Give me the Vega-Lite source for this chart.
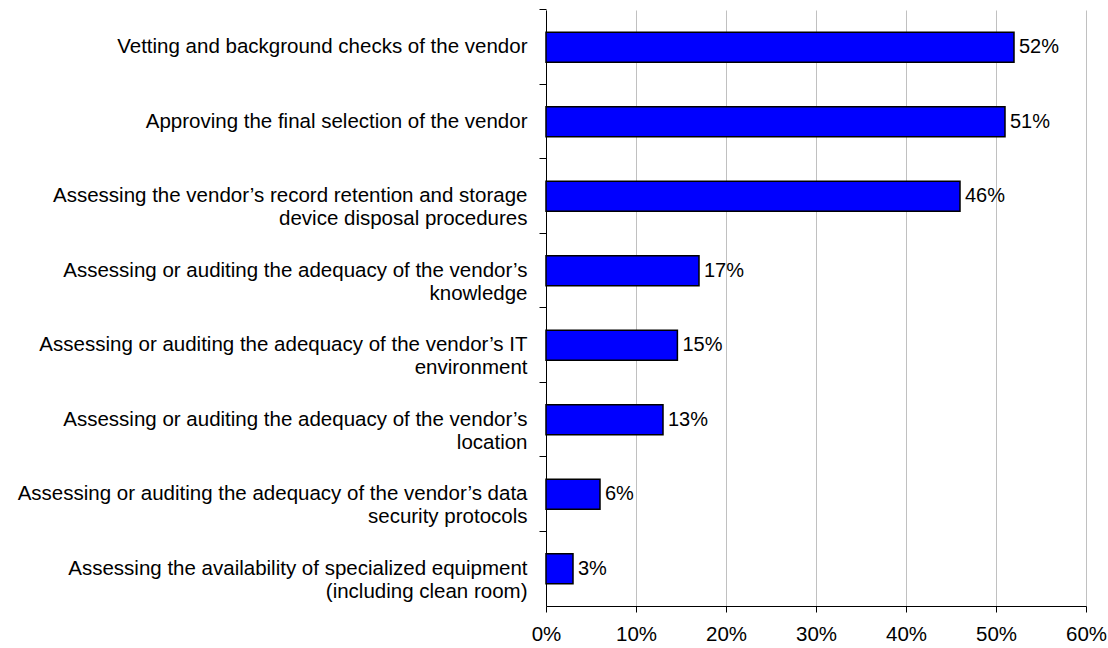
{
  "$schema": "https://vega.github.io/schema/vega-lite/v6.json",
  "autosize": "none",
  "width": 540,
  "height": 596,
  "padding": {"left": 546, "top": 10, "right": 22, "bottom": 42},
  "background": "white",
  "config": {
    "view": {"stroke": null},
    "font": "Liberation Sans",
    "axis": {"labelFont": "Liberation Sans", "labelColor": "black", "labelFontSize": 20.5}
  },
  "data": {
    "values": [
      {"label": "Vetting and background checks of the vendor", "value": 0.52},
      {"label": "Approving the final selection of the vendor", "value": 0.51},
      {"label": "Assessing the vendor’s record retention and storage|device disposal procedures", "value": 0.46},
      {"label": "Assessing or auditing the adequacy of the vendor’s|knowledge", "value": 0.17},
      {"label": "Assessing or auditing the adequacy of the vendor’s IT|environment", "value": 0.146},
      {"label": "Assessing or auditing the adequacy of the vendor’s|location", "value": 0.13},
      {"label": "Assessing or auditing the adequacy of the vendor’s data|security protocols", "value": 0.06},
      {"label": "Assessing the availability of specialized equipment|(including clean room)", "value": 0.03}
    ]
  },
  "encoding": {
    "y": {
      "field": "label",
      "type": "nominal",
      "sort": null,
      "scale": {"paddingInner": 0.6, "paddingOuter": 0.3},
      "axis": {
        "title": null,
        "bandPosition": -0.75,
        "labelExpr": "split(datum.label, '|')",
        "labelAlign": "right",
        "labelBaseline": "middle",
        "labelLineHeight": 23,
        "labelLimit": 0,
        "labelOverlap": false,
        "labelPadding": 12,
        "tickSize": 7,
        "tickColor": "black",
        "domainColor": "black",
        "grid": false
      }
    },
    "x": {
      "field": "value",
      "type": "quantitative",
      "scale": {"domain": [0, 0.6], "nice": false},
      "axis": {
        "title": null,
        "values": [0, 0.1, 0.2, 0.3, 0.4, 0.5, 0.6],
        "format": ".0%",
        "grid": true,
        "gridColor": "#c0c0c0",
        "gridWidth": 1,
        "tickSize": 6,
        "tickColor": "black",
        "domainColor": "black",
        "labelPadding": 12,
        "labelFlush": false
      }
    }
  },
  "layer": [
    {
      "mark": {"type": "bar", "fill": "#0000ff", "stroke": "black", "strokeWidth": 1.5}
    },
    {
      "mark": {"type": "text", "align": "left", "baseline": "middle", "dx": 5, "fontSize": 20, "color": "black", "font": "Liberation Sans"},
      "encoding": {
        "text": {"field": "value", "type": "quantitative", "format": ".0%"}
      }
    }
  ]
}
